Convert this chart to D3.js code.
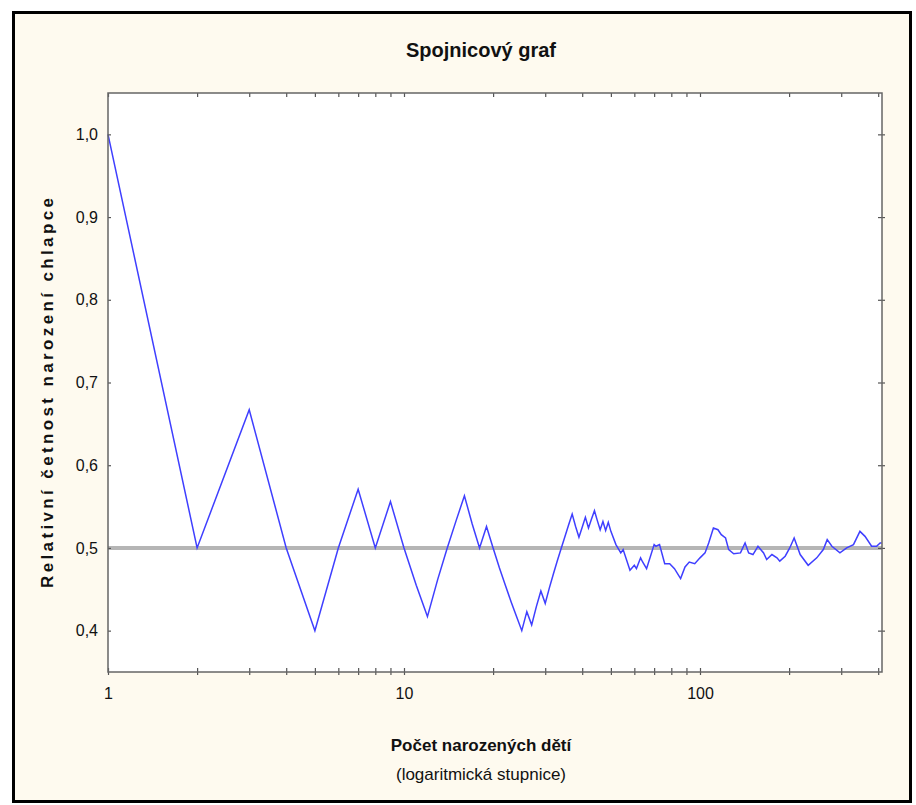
<!DOCTYPE html>
<html lang="cs">
<head>
<meta charset="UTF-8">
<title>Spojnicový graf</title>
<script src="https://d3js.org/d3.v7.min.js"></script>
<style>
  body { margin: 0; background: #fff; }
  svg { display: block; }
  text { font-family: "Liberation Sans Narrow", "Liberation Sans", Arial, sans-serif; fill: #111; }
  .tick line { stroke: #555; stroke-width: 1.2; }
</style>
</head>
<body>
<svg id="chart" width="916" height="805"></svg>
<script>
// number of children born (x) and relative frequency of boys (y)
const children = [1,2,3,4,5,6,7,8,9,10,11,12,13,14,15,16,17,18,19,20,
  21,22,23,24,25,26,27,28,29,30,31,32,33,34,35,36,37,38,39,40,
  41,42,43,44,45,46,47,48,49,50,52,54,55,58,60,61,63,64,66,70,
  71,73,76,79,82,86,89,92,96,100,104,107,111,115,118,122,125,130,137,142,
  146,151,157,164,168,175,182,186,194,201,208,218,232,248,261,269,279,297,313,330,
  347,361,380,395,406,411];
const boyShare = [1.0,0.5,0.667,0.5,0.4,0.5,0.571,0.5,0.556,0.5,0.455,0.417,0.462,0.5,0.533,0.563,0.529,0.5,0.526,0.5,
  0.476,0.455,0.435,0.417,0.4,0.423,0.407,0.429,0.448,0.433,0.452,0.469,0.485,0.5,0.514,0.528,0.541,0.526,0.513,0.525,
  0.537,0.524,0.535,0.545,0.533,0.522,0.532,0.521,0.531,0.52,0.504,0.494,0.498,0.473,0.479,0.475,0.488,0.483,0.475,0.504,
  0.502,0.504,0.481,0.481,0.475,0.463,0.477,0.483,0.481,0.488,0.494,0.506,0.524,0.522,0.516,0.512,0.498,0.493,0.494,0.506,
  0.494,0.492,0.502,0.494,0.486,0.492,0.488,0.484,0.49,0.5,0.512,0.492,0.479,0.488,0.498,0.51,0.502,0.494,0.5,0.504,
  0.52,0.514,0.502,0.502,0.506,0.506];
const refLevel = 0.5;

const xMajor = [1, 10, 100];
const xMajorLabels = ["1", "10", "100"];
const xMinor = [2,3,4,5,6,7,8,9,20,30,40,50,60,70,80,90,200,300,400];
const yTicks = [0.4, 0.5, 0.6, 0.7, 0.8, 0.9, 1.0];
const yTickLabels = ["0,4", "0,5", "0,6", "0,7", "0,8", "0,9", "1,0"];

const svg = d3.select("#chart");
const pLeft = 108, pRight = 882, pTop = 93, pBottom = 672;

const x = d3.scaleLog().domain([1, 412]).range([pLeft, pRight]);
const y = d3.scaleLinear().domain([0.35, 1.05]).range([pBottom, pTop]);

// outer frame
svg.append("rect").attr("x", 13.5).attr("y", 12.5).attr("width", 897).attr("height", 789)
  .attr("fill", "#fefaef").attr("stroke", "#000").attr("stroke-width", 3);

// plot area
svg.append("rect").attr("x", pLeft).attr("y", pTop).attr("width", pRight - pLeft).attr("height", pBottom - pTop)
  .attr("fill", "#fff");

// reference line at 0.5
svg.append("line").attr("x1", pLeft).attr("x2", pRight).attr("y1", y(refLevel)).attr("y2", y(refLevel))
  .attr("stroke", "#b5b5b5").attr("stroke-width", 4);

const pts = children.map((n, i) => [n, boyShare[i]]);
svg.append("path").datum(pts)
  .attr("fill", "none").attr("stroke", "#3f3fff").attr("stroke-width", 1.5)
  .attr("d", d3.line().x(d => x(d[0])).y(d => y(d[1])));

// axes
const allX = xMajor.concat(xMinor);
const fmtX = d => { const i = xMajor.indexOf(d); return i >= 0 ? xMajorLabels[i] : ""; };
const fmtY = d => yTickLabels[yTicks.indexOf(d)];

const gb = svg.append("g").attr("transform", `translate(0,${pBottom})`)
  .call(d3.axisBottom(x).tickValues(allX).tickFormat(fmtX).tickSizeInner(-4).tickSizeOuter(0).tickPadding(16));
gb.selectAll(".tick line").attr("y1", 3);
const gt = svg.append("g").attr("transform", `translate(0,${pTop})`)
  .call(d3.axisTop(x).tickValues(allX).tickFormat("").tickSizeInner(-4).tickSizeOuter(0));
const gl = svg.append("g").attr("transform", `translate(${pLeft},0)`)
  .call(d3.axisLeft(y).tickValues(yTicks).tickFormat(fmtY).tickSizeInner(4).tickSizeOuter(0).tickPadding(6));
gl.selectAll(".tick line").attr("x2", 3);
const gr = svg.append("g").attr("transform", `translate(${pRight},0)`)
  .call(d3.axisRight(y).tickValues(yTicks).tickFormat("").tickSizeInner(-4).tickSizeOuter(0));
gr.selectAll(".tick line").attr("x1", 3);
svg.selectAll(".domain").remove();
svg.selectAll(".tick text")
  .attr("fill", "#111").attr("font-size", 16)
  .attr("font-family", "'Liberation Sans', Arial, sans-serif");

// plot border
svg.append("rect").attr("x", pLeft).attr("y", pTop).attr("width", pRight - pLeft).attr("height", pBottom - pTop)
  .attr("fill", "none").attr("stroke", "#666").attr("stroke-width", 1.5);

// titles
svg.append("text").attr("x", 481).attr("y", 57).attr("text-anchor", "middle")
  .attr("font-size", 20).attr("font-weight", "bold").text("Spojnicový graf");

svg.append("text").attr("transform", "translate(53,393) rotate(-90)").attr("text-anchor", "middle")
  .attr("font-size", 17).attr("font-weight", "bold")
  .attr("textLength", 390).attr("lengthAdjust", "spacing")
  .text("Relativní četnost narození chlapce");

svg.append("text").attr("x", 481).attr("y", 751).attr("text-anchor", "middle")
  .attr("font-size", 17).attr("font-weight", "bold").text("Počet narozených dětí");

svg.append("text").attr("x", 481).attr("y", 780).attr("text-anchor", "middle")
  .attr("font-size", 17).text("(logaritmická stupnice)");
</script>
</body>
</html>
